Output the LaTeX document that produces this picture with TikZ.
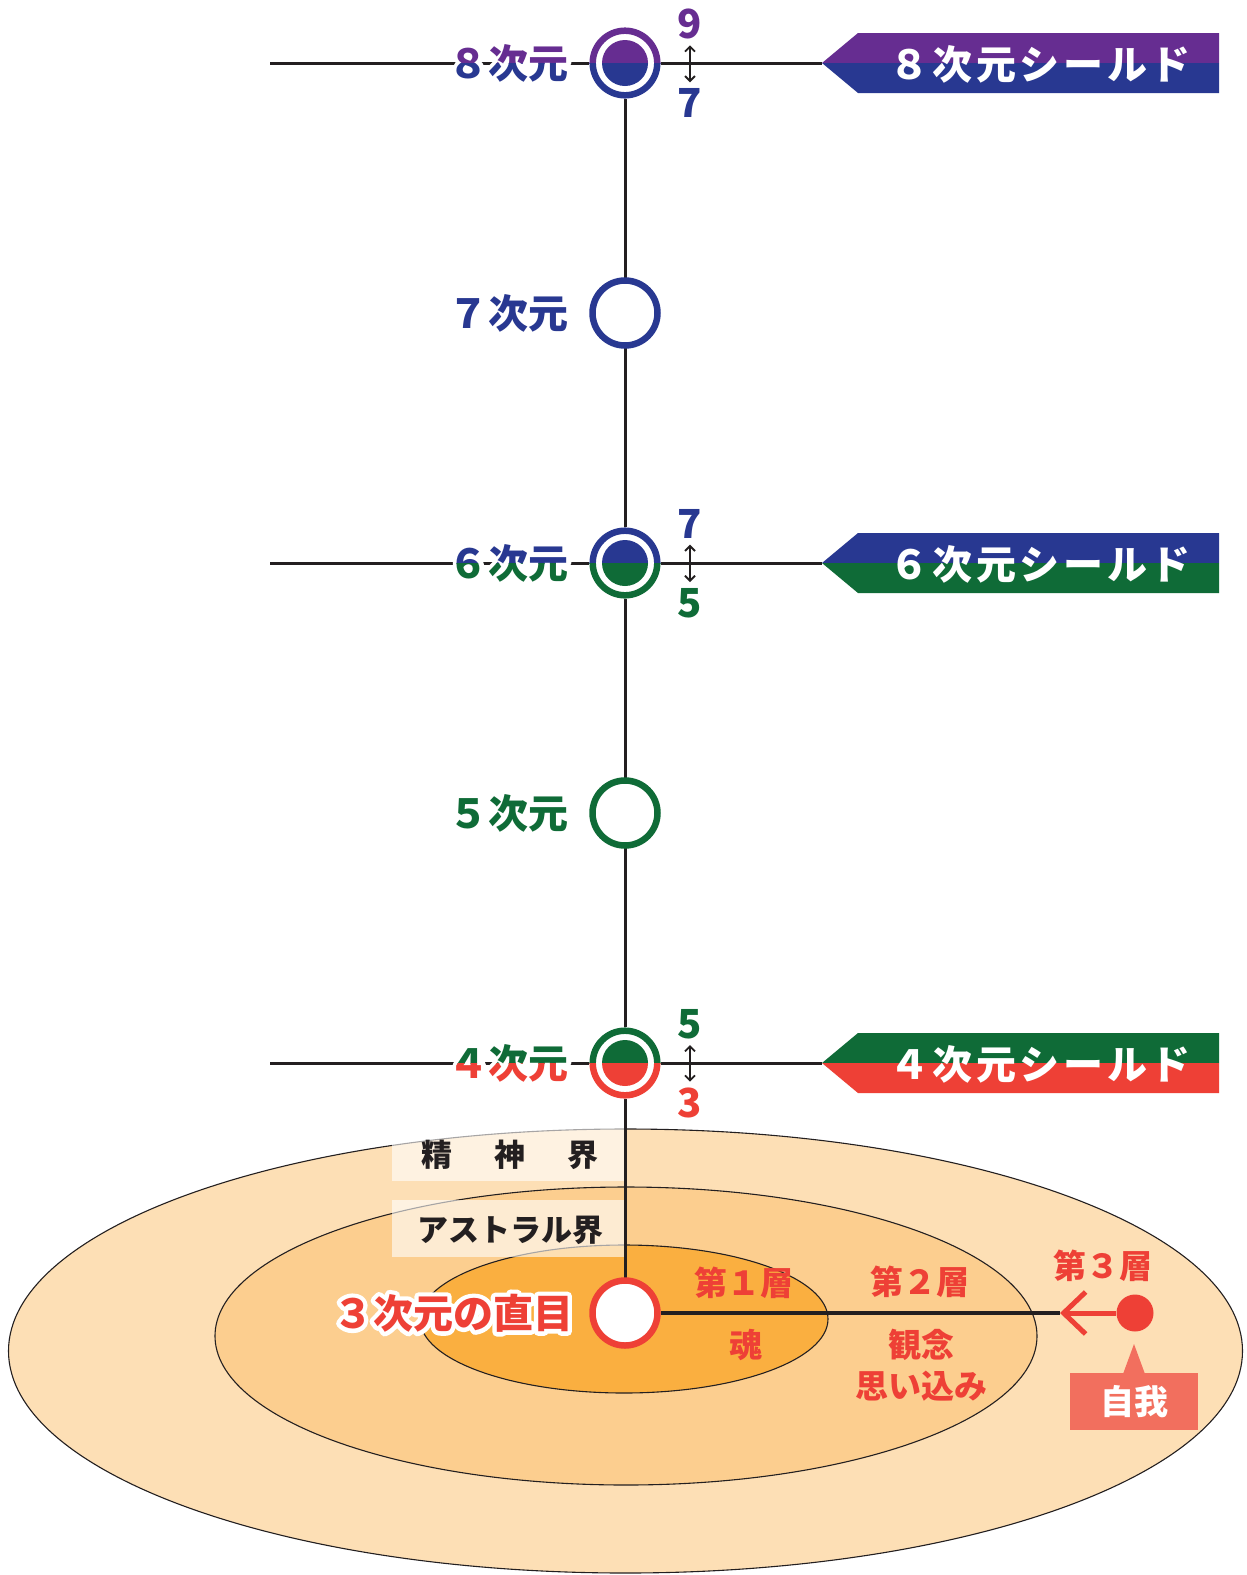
\documentclass[tikz,border=0pt]{standalone}
\usepackage{fontspec}
\setmainfont{Noto Sans CJK JP}
\usetikzlibrary{calc,arrows.meta}
\definecolor{cpurple}{HTML}{662D91}
\definecolor{cnavy}{HTML}{283891}
\definecolor{cgreen}{HTML}{0F6B37}
\definecolor{cred}{HTML}{EE4036}
\definecolor{csalmon}{HTML}{F26F5E}
\definecolor{eouter}{HTML}{FDDFB5}
\definecolor{emid}{HTML}{FCCE8F}
\definecolor{einner}{HTML}{FAAF40}
\definecolor{cline}{HTML}{231F20}
\tikzset{
 lab/.style={font=\fontsize{40}{48}\selectfont\bfseries, inner sep=0pt, anchor=east},
 halolab/.style={lab, text=white, font=\fontsize{40}{48}\selectfont\bfseries\addfontfeatures{FakeBold=22}},
 numlab/.style={font=\fontsize{40}{48}\selectfont\bfseries, inner sep=0pt},
 bantext/.style={font=\fontsize{40}{48}\selectfont\bfseries\addfontfeatures{LetterSpace=9}, text=white, inner sep=0pt},
 layertext/.style={font=\fontsize{33}{40}\selectfont\bfseries, text=cred, inner sep=0pt},
 realm/.style={font=\fontsize{31}{38}\selectfont\bfseries, text=cline, inner sep=0pt},
 bigred/.style={font=\fontsize{40}{48}\selectfont\bfseries, inner sep=0pt},
 halobig/.style={bigred, text=white, font=\fontsize{40}{48}\selectfont\bfseries\addfontfeatures{FakeBold=22}},
 axis/.style={draw=cline, line width=3pt},
 dblarrow/.style={draw=cline, line width=1.8pt, {Straight Barb[length=5pt,width=10pt]}-{Straight Barb[length=5pt,width=10pt]}, shorten <=6pt, shorten >=6pt},
 ell/.style={draw=cline, line width=1.1pt},
 ring/.style={circle, line width=6.5pt, fill=white, minimum size=65pt, inner sep=0pt},
}
\newcommand\rj{\special{pdf:literal direct 1 j}}
\newcommand\dimlabel[5]{%
 \node[halolab] (#1h) at (569,#2) {\rj#5};
 \begin{scope}\clip (420,#2-45) rectangle (600,#2);\node[lab,text=#3] (#1t) at (569,#2) {#5};\end{scope}
 \begin{scope}\clip (420,#2) rectangle (600,#2+45);\node[lab,text=#4] (#1) at (569,#2) {#5};\end{scope}
}
\newcommand\dimcircle[4]{%
 \fill[white] (625,#2) circle (36);
 \begin{scope}\clip (585,#2-40) rectangle (665,#2);
  \draw[#3,line width=6.5pt] (625,#2) circle (32.3); \fill[#3] (625,#2) circle (23);\end{scope}
 \begin{scope}\clip (585,#2) rectangle (665,#2+40);
  \draw[#4,line width=6.5pt] (625,#2) circle (32.3); \fill[#4] (625,#2) circle (23);\end{scope}
 \node[circle,inner sep=0pt,minimum size=72pt] (#1) at (625,#2) {};
}
\newcommand\banner[5]{%
 \fill[#3] (822,#2) -- (858,#2-30) -- (1219,#2-30) -- (1219,#2) -- cycle;
 \fill[#4] (822,#2) -- (858,#2+30) -- (1219,#2+30) -- (1219,#2) -- cycle;
 \node[bantext] (#1) at (1040,#2+1) {#5};
}
\begin{document}
\begin{tikzpicture}[x=1pt,y=-1pt]
\useasboundingbox (0,0) rectangle (1247,1575);
\fill[white] (0,0) rectangle (1247,1575);
% ellipses
\filldraw[ell, fill=eouter] (625.5,1351) ellipse [x radius=617, y radius=222];
\filldraw[ell, fill=emid] (626,1336) ellipse [x radius=411, y radius=149];
\filldraw[ell, fill=einner] (624,1319) ellipse [x radius=204, y radius=74];
% realm boxes
\fill[white, opacity=0.6] (392,1128) rectangle (625,1181);
\fill[white, opacity=0.6] (392,1200) rectangle (625,1257);
\node[realm] (seishin) at (510,1155) {精\hspace{42pt}神\hspace{42pt}界};
\node[realm] (astral) at (510,1230) {アストラル界};
% coordinates
\coordinate (p8) at (625,63);
\coordinate (p3) at (625,1313);
\coordinate (l8) at (270,63);
\coordinate (l6) at (270,563);
\coordinate (l4) at (270,1063);
\coordinate (t8) at (822,63);
\coordinate (t6) at (822,563);
\coordinate (t4) at (822,1063);
\coordinate (arrtip) at (1060,1313);
% lines
\draw[axis] (p8) -- (p3);
\draw[axis] (l8) -- (t8);
\draw[axis] (l6) -- (t6);
\draw[axis] (l4) -- (t4);
% circles
\dimcircle{c8}{63}{cpurple}{cnavy}
\node[ring, draw=cnavy] (c7) at (625,313) {};
\dimcircle{c6}{563}{cnavy}{cgreen}
\node[ring, draw=cgreen] (c5) at (625,813) {};
\dimcircle{c4}{1063}{cgreen}{cred}
\node[ring, draw=cred] (c3) at (p3) {};
% labels
\dimlabel{d8}{63}{cpurple}{cnavy}{８次元}
\node[lab, text=cnavy] (d7) at (569,313) {７次元};
\dimlabel{d6}{563}{cnavy}{cgreen}{６次元}
\node[lab, text=cgreen] (d5) at (569,813) {５次元};
\dimlabel{d4}{1063}{cgreen}{cred}{４次元}
% numbers and arrows
\node[numlab, text=cpurple] (n9) at (690,24) {9};
\node[numlab, text=cnavy] (n7a) at (690,103) {7};
\draw[dblarrow] (n9) -- (n7a);
\node[numlab, text=cnavy] (n7b) at (690,524) {7};
\node[numlab, text=cgreen] (n5a) at (690,603) {5};
\draw[dblarrow] (n7b) -- (n5a);
\node[numlab, text=cgreen] (n5b) at (690,1024) {5};
\node[numlab, text=cred] (n3) at (690,1103) {3};
\draw[dblarrow] (n5b) -- (n3);
% banners
\banner{b8}{63}{cpurple}{cnavy}{８次元シールド}
\banner{b6}{563}{cnavy}{cgreen}{６次元シールド}
\banner{b4}{1063}{cgreen}{cred}{４次元シールド}
% 3rd dimension
\node[halobig] (thirdh) at (453,1313) {\rj３次元の直目};
\node[bigred, text=cred] (third) at (453,1313) {３次元の直目};
\node[circle, fill=cred, minimum size=37pt, inner sep=0pt] (ego) at (1135,1313) {};
\draw[cline, line width=4pt] (c3) -- (arrtip);
\draw[cred, line width=5pt, -{Straight Barb[length=22pt,width=42pt]}] (ego) -- (arrtip);
\fill[csalmon] (1070,1373) rectangle (1198,1430);
\fill[csalmon] (1123,1374) -- (1134,1344) -- (1145,1374) -- cycle;
\node[layertext, text=white, font=\fontsize{34}{40}\selectfont\bfseries] (jiga) at (1134,1402) {自我};
% layer texts
\node[layertext] (lay1) at (744,1283) {第１層};
\node[layertext] (soul) at (746,1345) {魂};
\node[layertext] (lay2) at (920,1282) {第２層};
\node[layertext] (kan) at (921,1345) {観念};
\node[layertext] (omoi) at (921,1386) {思い込み};
\node[layertext] (lay3) at (1103,1266) {第３層};
\end{tikzpicture}
\end{document}
